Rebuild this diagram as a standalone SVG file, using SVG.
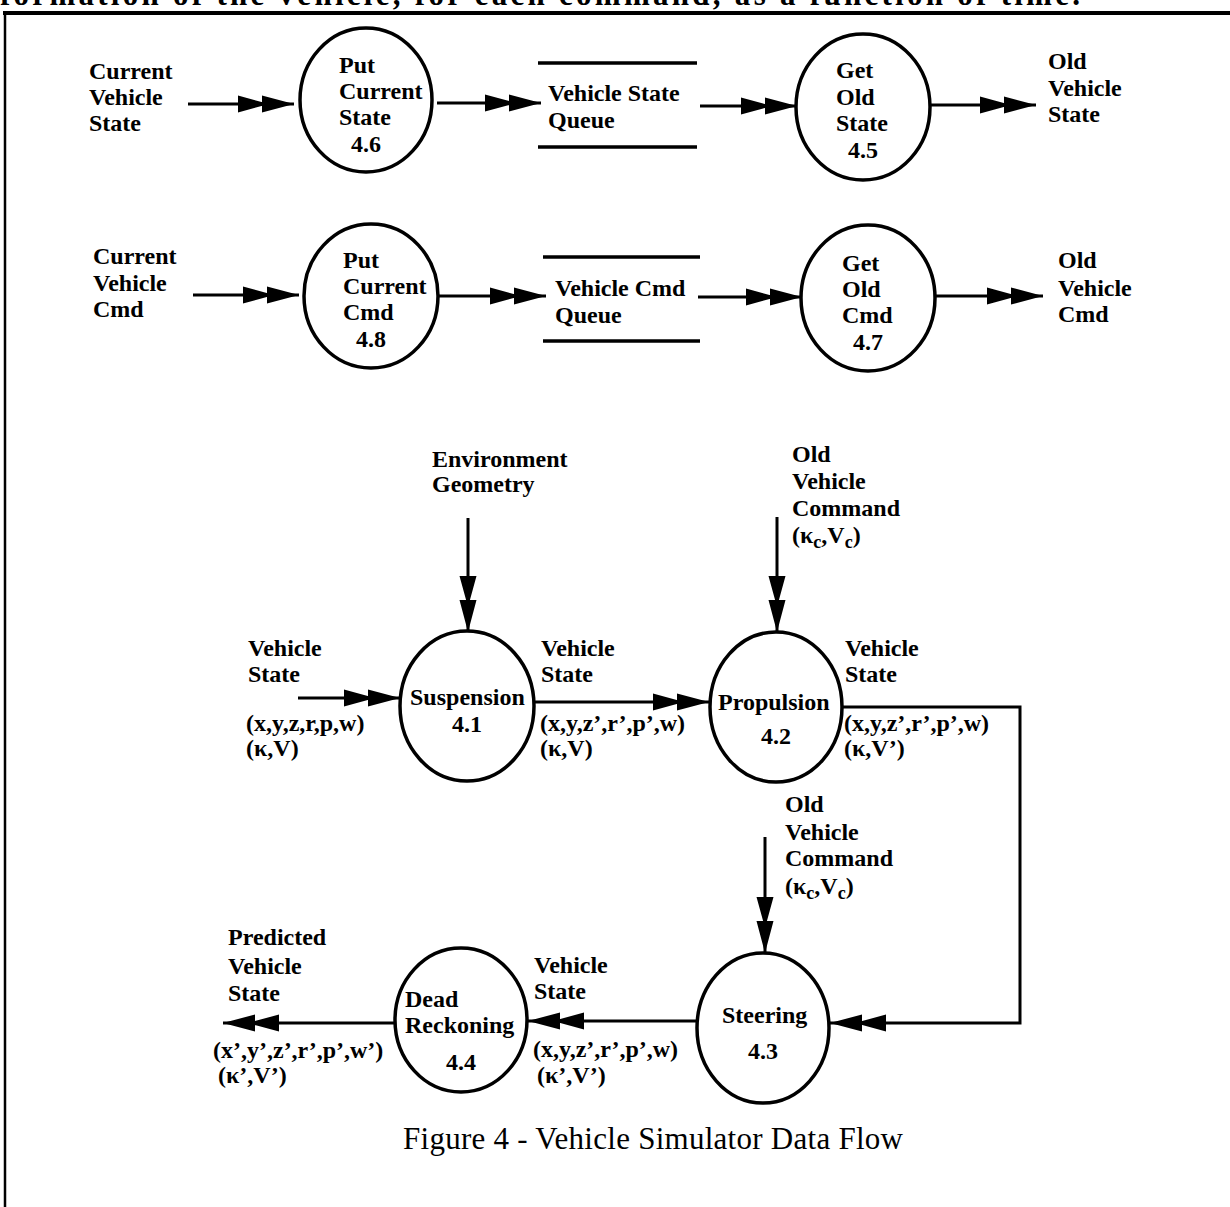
<svg xmlns="http://www.w3.org/2000/svg" width="1230" height="1207" viewBox="0 0 1230 1207">
<style>
  .lbl { font-family: "Liberation Serif", "Times New Roman", serif; font-weight: bold; font-size: 24px; fill: #000; }
  .num { text-anchor: middle; }
  .cap { font-family: "Liberation Serif", "Times New Roman", serif; font-size: 31px; fill: #000; }
  .proc { fill: none; stroke: #000; stroke-width: 3.5; }
  .flow { fill: none; stroke: #000; stroke-width: 3; }
  .store { stroke: #000; stroke-width: 3.5; }
  .frame { stroke: #000; fill: none; }
  .sub { font-size: 18px; }
</style>
<defs>
  <marker id="dbl" markerUnits="userSpaceOnUse" markerWidth="60" markerHeight="22" viewBox="0 -11 60 22" refX="56" refY="0" orient="auto">
    <path d="M0,-8.5 L31,0 L0,8.5 Z M24,-8.5 L56,0 L24,8.5 Z" fill="#000"/>
  </marker>
</defs>

<rect width="1230" height="1207" fill="#fff"/>
<text class="cap" x="0" y="5" font-size="30" font-weight="bold" textLength="1080">formation of the vehicle, for each command, as a function of time.</text>
<line class="frame" x1="3" y1="13" x2="1230" y2="13" stroke-width="4"/>
<line class="frame" x1="5" y1="12" x2="5" y2="1207" stroke-width="2.5"/>

<g id="connectors">
  <line class="flow" x1="188" y1="104" x2="294" y2="104" marker-end="url(#dbl)"/>
  <line class="flow" x1="437" y1="103" x2="541" y2="103" marker-end="url(#dbl)"/>
  <line class="flow" x1="700" y1="106" x2="797" y2="106" marker-end="url(#dbl)"/>
  <line class="flow" x1="930" y1="105" x2="1036" y2="105" marker-end="url(#dbl)"/>
  <line class="flow" x1="193" y1="295" x2="299" y2="295" marker-end="url(#dbl)"/>
  <line class="flow" x1="438" y1="296" x2="546" y2="296" marker-end="url(#dbl)"/>
  <line class="flow" x1="698" y1="297" x2="802" y2="297" marker-end="url(#dbl)"/>
  <line class="flow" x1="935" y1="296" x2="1043" y2="296" marker-end="url(#dbl)"/>
  <line class="flow" x1="468" y1="518" x2="468" y2="632" marker-end="url(#dbl)"/>
  <line class="flow" x1="298" y1="698" x2="400" y2="698" marker-end="url(#dbl)"/>
  <line class="flow" x1="533" y1="702" x2="709" y2="702" marker-end="url(#dbl)"/>
  <line class="flow" x1="777" y1="517" x2="777" y2="632" marker-end="url(#dbl)"/>
  <polyline class="flow" points="842,707 1020,707 1020,1023 830,1023" marker-end="url(#dbl)"/>
  <line class="flow" x1="765" y1="837" x2="765" y2="953" marker-end="url(#dbl)"/>
  <line class="flow" x1="697" y1="1021" x2="528" y2="1021" marker-end="url(#dbl)"/>
  <line class="flow" x1="395" y1="1023" x2="223" y2="1023" marker-end="url(#dbl)"/>
</g>

<g id="ext-current-vehicle-state">
  <text class="lbl" x="89" y="79">Current</text>
  <text class="lbl" x="89" y="105">Vehicle</text>
  <text class="lbl" x="89" y="131">State</text>
</g>
<g id="p4-6">
  <ellipse class="proc" cx="366" cy="100" rx="66" ry="72"/>
  <text class="lbl" x="339" y="73">Put</text>
  <text class="lbl" x="339" y="99">Current</text>
  <text class="lbl" x="339" y="125">State</text>
  <text class="lbl num" x="366" y="152">4.6</text>
</g>
<g id="store-vehicle-state-queue">
  <line class="store" x1="538" y1="63" x2="697" y2="63"/>
  <line class="store" x1="538" y1="147" x2="697" y2="147"/>
  <text class="lbl" x="548" y="101">Vehicle State</text>
  <text class="lbl" x="548" y="128">Queue</text>
</g>
<g id="p4-5">
  <ellipse class="proc" cx="863" cy="107" rx="67" ry="73"/>
  <text class="lbl" x="836" y="78">Get</text>
  <text class="lbl" x="836" y="105">Old</text>
  <text class="lbl" x="836" y="131">State</text>
  <text class="lbl num" x="863" y="158">4.5</text>
</g>
<g id="ext-old-vehicle-state">
  <text class="lbl" x="1048" y="69">Old</text>
  <text class="lbl" x="1048" y="96">Vehicle</text>
  <text class="lbl" x="1048" y="122">State</text>
</g>

<g id="ext-current-vehicle-cmd">
  <text class="lbl" x="93" y="264">Current</text>
  <text class="lbl" x="93" y="291">Vehicle</text>
  <text class="lbl" x="93" y="317">Cmd</text>
</g>
<g id="p4-8">
  <ellipse class="proc" cx="371" cy="296" rx="67" ry="72"/>
  <text class="lbl" x="343" y="268">Put</text>
  <text class="lbl" x="343" y="294">Current</text>
  <text class="lbl" x="343" y="320">Cmd</text>
  <text class="lbl num" x="371" y="347">4.8</text>
</g>
<g id="store-vehicle-cmd-queue">
  <line class="store" x1="543" y1="257" x2="700" y2="257"/>
  <line class="store" x1="543" y1="341" x2="700" y2="341"/>
  <text class="lbl" x="555" y="296">Vehicle Cmd</text>
  <text class="lbl" x="555" y="323">Queue</text>
</g>
<g id="p4-7">
  <ellipse class="proc" cx="868" cy="298" rx="67" ry="73"/>
  <text class="lbl" x="842" y="271">Get</text>
  <text class="lbl" x="842" y="297">Old</text>
  <text class="lbl" x="842" y="323">Cmd</text>
  <text class="lbl num" x="868" y="350">4.7</text>
</g>
<g id="ext-old-vehicle-cmd">
  <text class="lbl" x="1058" y="268">Old</text>
  <text class="lbl" x="1058" y="296">Vehicle</text>
  <text class="lbl" x="1058" y="322">Cmd</text>
</g>

<g id="ext-environment-geometry">
  <text class="lbl" x="432" y="467">Environment</text>
  <text class="lbl" x="432" y="492">Geometry</text>
</g>
<g id="ext-old-vehicle-command-1">
  <text class="lbl" x="792" y="462">Old</text>
  <text class="lbl" x="792" y="489">Vehicle</text>
  <text class="lbl" x="792" y="516">Command</text>
  <text class="lbl" x="792" y="543">(κ<tspan class="sub" dy="5">c</tspan><tspan dy="-5">,V</tspan><tspan class="sub" dy="5">c</tspan><tspan dy="-5">)</tspan></text>
</g>
<g id="lbl-vs-in">
  <text class="lbl" x="248" y="656">Vehicle</text>
  <text class="lbl" x="248" y="682">State</text>
  <text class="lbl" x="246" y="731">(x,y,z,r,p,w)</text>
  <text class="lbl" x="246" y="756">(κ,V)</text>
</g>
<g id="p4-1">
  <ellipse class="proc" cx="467" cy="706" rx="67" ry="75"/>
  <text class="lbl" x="410" y="705">Suspension</text>
  <text class="lbl num" x="467" y="732">4.1</text>
</g>
<g id="lbl-vs-mid">
  <text class="lbl" x="541" y="656">Vehicle</text>
  <text class="lbl" x="541" y="682">State</text>
  <text class="lbl" x="540" y="731">(x,y,z’,r’,p’,w)</text>
  <text class="lbl" x="540" y="756">(κ,V)</text>
</g>
<g id="p4-2">
  <ellipse class="proc" cx="776" cy="707" rx="66" ry="75"/>
  <text class="lbl" x="718" y="710">Propulsion</text>
  <text class="lbl num" x="776" y="744">4.2</text>
</g>
<g id="lbl-vs-right">
  <text class="lbl" x="845" y="656">Vehicle</text>
  <text class="lbl" x="845" y="682">State</text>
  <text class="lbl" x="844" y="731">(x,y,z’,r’,p’,w)</text>
  <text class="lbl" x="844" y="756">(κ,V’)</text>
</g>
<g id="ext-old-vehicle-command-2">
  <text class="lbl" x="785" y="812">Old</text>
  <text class="lbl" x="785" y="840">Vehicle</text>
  <text class="lbl" x="785" y="866">Command</text>
  <text class="lbl" x="785" y="894">(κ<tspan class="sub" dy="5">c</tspan><tspan dy="-5">,V</tspan><tspan class="sub" dy="5">c</tspan><tspan dy="-5">)</tspan></text>
</g>
<g id="p4-3">
  <ellipse class="proc" cx="763" cy="1028" rx="66" ry="75"/>
  <text class="lbl" x="722" y="1023">Steering</text>
  <text class="lbl num" x="763" y="1059">4.3</text>
</g>
<g id="lbl-vs-bottom">
  <text class="lbl" x="534" y="973">Vehicle</text>
  <text class="lbl" x="534" y="999">State</text>
  <text class="lbl" x="533" y="1057">(x,y,z’,r’,p’,w)</text>
  <text class="lbl" x="537" y="1083">(κ’,V’)</text>
</g>
<g id="p4-4">
  <ellipse class="proc" cx="461" cy="1020" rx="66" ry="72"/>
  <text class="lbl" x="405" y="1007">Dead</text>
  <text class="lbl" x="405" y="1033">Reckoning</text>
  <text class="lbl num" x="461" y="1070">4.4</text>
</g>
<g id="ext-predicted-vehicle-state">
  <text class="lbl" x="228" y="945">Predicted</text>
  <text class="lbl" x="228" y="974">Vehicle</text>
  <text class="lbl" x="228" y="1001">State</text>
  <text class="lbl" x="213" y="1058">(x’,y’,z’,r’,p’,w’)</text>
  <text class="lbl" x="218" y="1083">(κ’,V’)</text>
</g>

<text class="cap" x="403" y="1149" textLength="500">Figure 4 - Vehicle Simulator Data Flow</text>
</svg>
